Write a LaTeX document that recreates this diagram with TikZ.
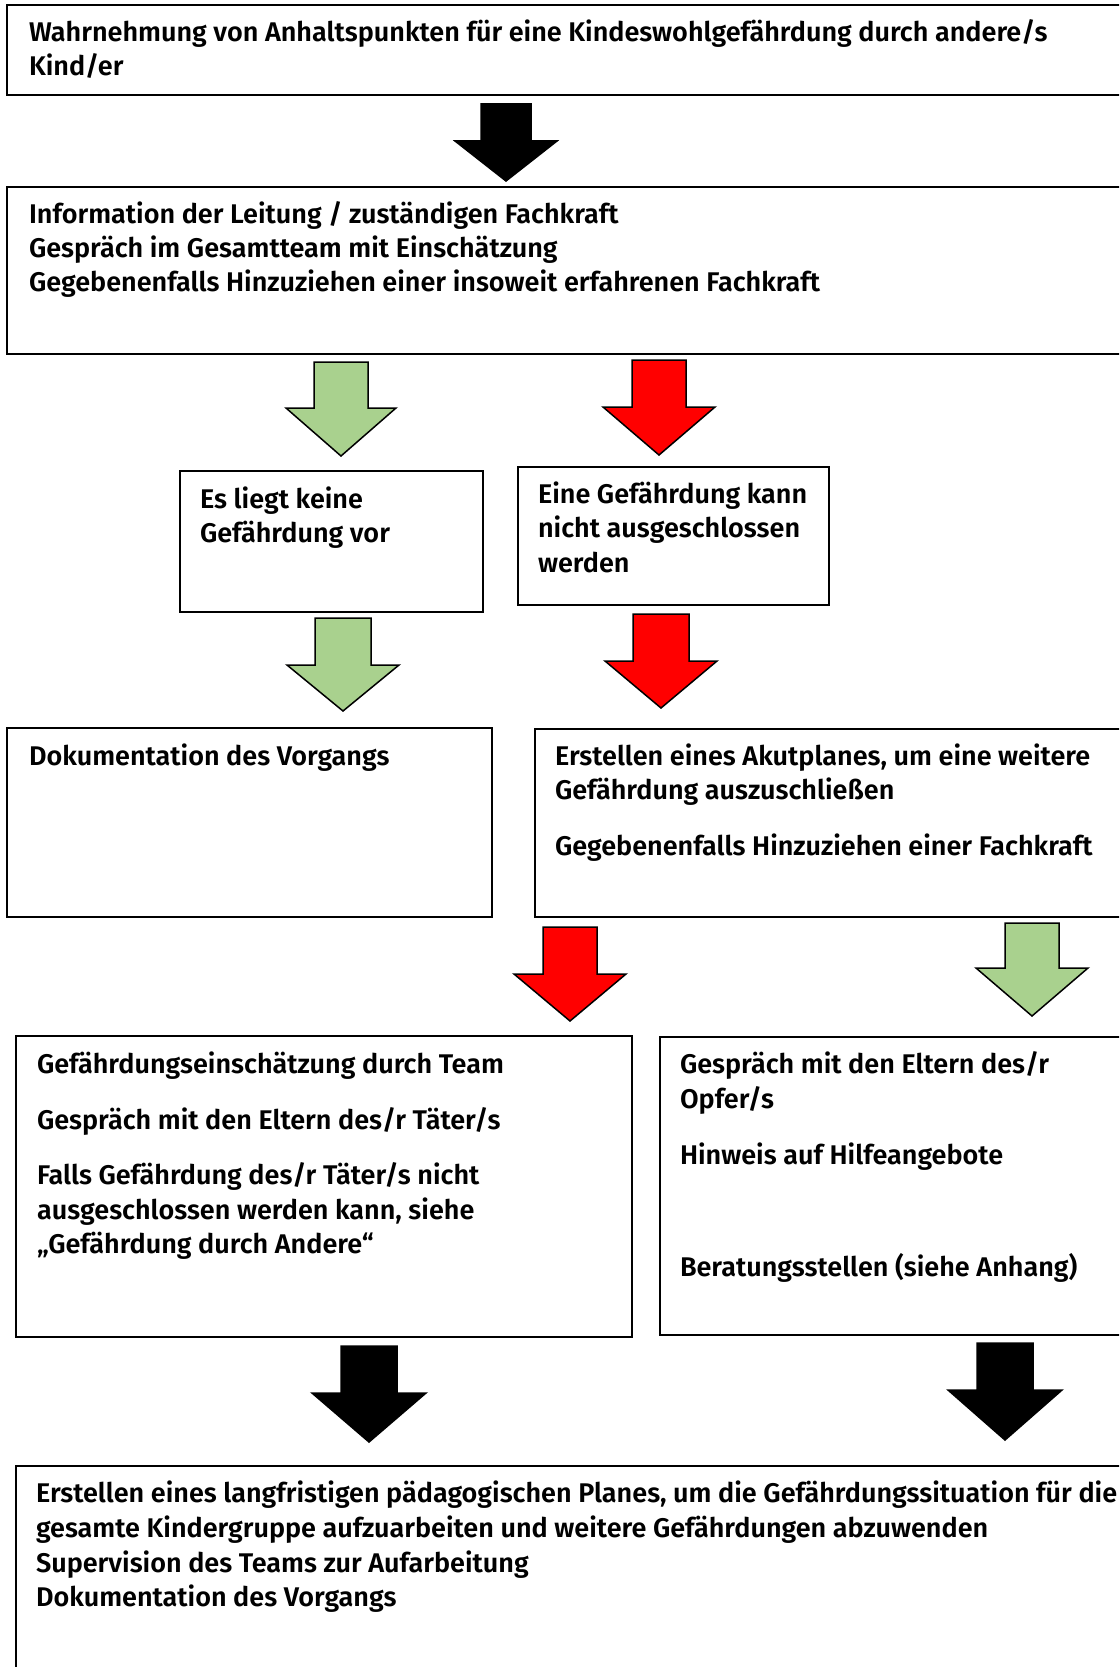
\documentclass[tikz,border=0pt]{standalone}
\usepackage{fontspec}
\setmainfont{Fira Sans}[BoldFont={* SemiBold}]
\definecolor{agreen}{HTML}{A9D18E}
\definecolor{ared}{HTML}{FF0000}
\newcommand\blockarr[8]{%
  \draw[arr, fill=#2] ({#3-#7},{#4}) -- ({#3+#7},{#4}) -- ({#3+#7},{#5}) -- ({#3+#8},{#5}) -- ({#3},{#6}) -- ({#3-#8},{#5}) -- ({#3-#7},{#5}) -- cycle;%
  \coordinate (#1) at ({#3},{#6});}
\begin{document}
\begin{tikzpicture}[x=1pt,y=-1pt,
  box/.style={draw=black, line width=2pt, anchor=north west, inner sep=0pt, outer sep=0pt},
  txt/.style={anchor=base west, inner sep=0pt, outer sep=0pt, font=\fontsize{27}{34}\selectfont\bfseries},
  arr/.style={draw=black, line width=1.5pt, line join=miter}]
\useasboundingbox (0,0) rectangle (1119,1667);
\clip (0,0) rectangle (1119,1667);
\fill[white] (0,0) rectangle (1119,1667);

% boxes
\node[box, minimum width=1123pt, minimum height=90pt]  (boxA) at (7,5) {};
\node[box, minimum width=1123pt, minimum height=167pt] (boxB) at (7,187) {};
\node[box, minimum width=303pt,  minimum height=141pt] (boxC) at (180,471) {};
\node[box, minimum width=311pt,  minimum height=138pt] (boxD) at (518,467) {};
\node[box, minimum width=485pt,  minimum height=189pt] (boxE) at (7,728) {};
\node[box, minimum width=595pt,  minimum height=188pt] (boxF) at (535,729) {};
\node[box, minimum width=616pt,  minimum height=301pt] (boxG) at (16,1036) {};
\node[box, minimum width=470pt,  minimum height=298pt] (boxH) at (660,1037) {};
\node[box, minimum width=1114pt, minimum height=260pt] (boxI) at (16,1466) {};

% block arrows: name, colour, cx, top, headY, tip, shaft half, head half
\blockarr{ar1}{black}{506}{104}{141}{181}{25}{51}
\blockarr{ar2}{agreen}{341}{362}{408}{456}{27}{55}
\blockarr{ar3}{ared}{659}{360}{407}{455}{27}{56}
\blockarr{ar4}{agreen}{343}{618}{665}{711}{28}{56}
\blockarr{ar5}{ared}{661}{614}{661}{708}{28}{56}
\blockarr{ar6}{ared}{570}{927}{974}{1021}{27}{56}
\blockarr{ar7}{agreen}{1032}{923}{968}{1016}{27}{56}
\blockarr{ar8}{black}{369}{1346}{1393}{1442}{28}{57}
\blockarr{ar9}{black}{1005}{1343}{1390}{1440}{28}{57}

% texts
\node[txt] (tA1) at (29,42) {Wahrnehmung von Anhaltspunkten für eine Kindeswohlgefährdung durch andere/s};
\node[txt] (tA2) at (29,76) {Kind/er};

\node[txt] (tB1) at (29,223) {Information der Leitung / zuständigen Fachkraft};
\node[txt] (tB2) at (29,257) {Gespräch im Gesamtteam mit Einschätzung};
\node[txt] (tB3) at (29,291) {Gegebenenfalls Hinzuziehen einer insoweit erfahrenen Fachkraft};

\node[txt] (tC1) at (200,508) {Es liegt keine};
\node[txt] (tC2) at (200,542) {Gefährdung vor};

\node[txt] (tD1) at (538,503) {Eine Gefährdung kann};
\node[txt] (tD2) at (538,537) {nicht ausgeschlossen};
\node[txt] (tD3) at (538,572) {werden};

\node[txt] (tE1) at (29,765) {Dokumentation des Vorgangs};

\node[txt] (tF1) at (555,765) {Erstellen eines Akutplanes, um eine weitere};
\node[txt] (tF2) at (555,799) {Gefährdung auszuschließen};
\node[txt] (tF3) at (555,855) {Gegebenenfalls Hinzuziehen einer Fachkraft};

\node[txt] (tG1) at (37,1073) {Gefährdungseinschätzung durch Team};
\node[txt] (tG2) at (37,1129) {Gespräch mit den Eltern des/r Täter/s};
\node[txt] (tG3) at (37,1184) {Falls Gefährdung des/r Täter/s nicht};
\node[txt] (tG4) at (37,1219) {ausgeschlossen werden kann, siehe};
\node[txt] (tG5) at (37,1253) {„Gefährdung durch Andere“};

\node[txt] (tH1) at (680,1073) {Gespräch mit den Eltern des/r};
\node[txt] (tH2) at (680,1108) {Opfer/s};
\node[txt] (tH3) at (680,1164) {Hinweis auf Hilfeangebote};
\node[txt] (tH4) at (680,1276) {Beratungsstellen (siehe Anhang)};

\node[txt] (tI1) at (36,1502) {Erstellen eines langfristigen pädagogischen Planes, um die Gefährdungssituation für die};
\node[txt] (tI2) at (36,1537) {gesamte Kindergruppe aufzuarbeiten und weitere Gefährdungen abzuwenden};
\node[txt] (tI3) at (36,1572) {Supervision des Teams zur Aufarbeitung};
\node[txt] (tI4) at (36,1606) {Dokumentation des Vorgangs};
\end{tikzpicture}
\end{document}
